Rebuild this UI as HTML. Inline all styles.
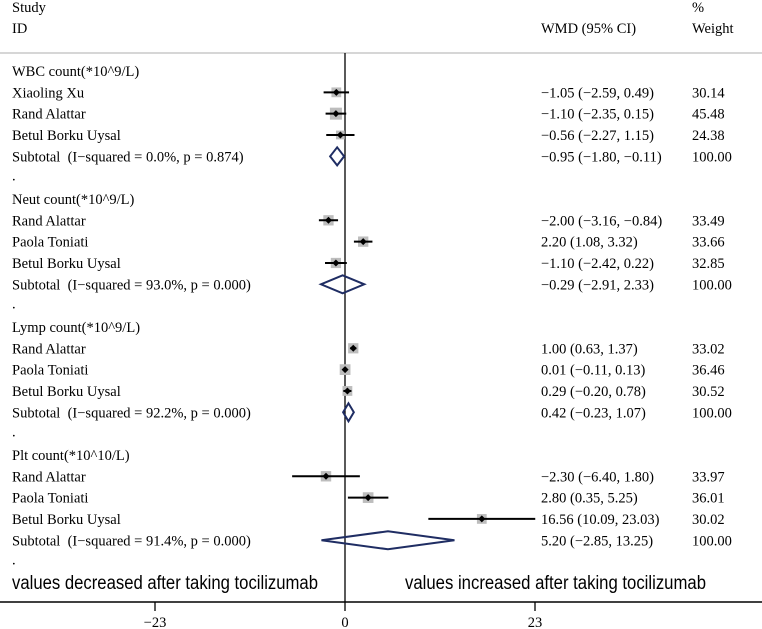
<!DOCTYPE html>
<html><head><meta charset="utf-8"><style>
html,body{margin:0;padding:0;background:#fff;}
svg{display:block;}
text{font-family:"Liberation Serif",serif;font-size:14.5px;fill:#000;white-space:pre;}
.sans{font-family:"Liberation Sans",sans-serif;font-size:19px;}
</style></head><body>
<svg id="chart" width="762" height="629" viewBox="0 0 762 629" xml:space="preserve">
<text x="12" y="12">Study</text>
<text x="12" y="33">ID</text>
<text x="541" y="33">WMD (95% CI)</text>
<text x="692" y="12">%</text>
<text x="692" y="33">Weight</text>
<line x1="0" y1="53" x2="762" y2="53" stroke="#c8c8c8" stroke-width="1.5"/>
<g id="marks"></g>
<line x1="0" y1="602" x2="762" y2="602" stroke="#000" stroke-width="1.5"/>
<g id="ticks"></g>
<text class="sans" x="12" y="589" textLength="306" lengthAdjust="spacingAndGlyphs">values decreased after taking tocilizumab</text>
<text class="sans" x="405" y="589" textLength="301" lengthAdjust="spacingAndGlyphs">values increased after taking tocilizumab</text>
</svg>
<script>
const groups = ["WBC count(*10^9/L)","Neut count(*10^9/L)","Lymp count(*10^9/L)","Plt count(*10^10/L)"];
const subtotalLabels = ["Subtotal  (I\u2212squared = 0.0%, p = 0.874)","Subtotal  (I\u2212squared = 93.0%, p = 0.000)","Subtotal  (I\u2212squared = 92.2%, p = 0.000)","Subtotal  (I\u2212squared = 91.4%, p = 0.000)"];
const studies = [["Xiaoling Xu","Rand Alattar","Betul Borku Uysal"],["Rand Alattar","Paola Toniati","Betul Borku Uysal"],["Rand Alattar","Paola Toniati","Betul Borku Uysal"],["Rand Alattar","Paola Toniati","Betul Borku Uysal"]];
const est = [[-1.05,-1.10,-0.56],[-2.00,2.20,-1.10],[1.00,0.01,0.29],[-2.30,2.80,16.56]];
const lo = [[-2.59,-2.35,-2.27],[-3.16,1.08,-2.42],[0.63,-0.11,-0.20],[-6.40,0.35,10.09]];
const hi = [[0.49,0.15,1.15],[-0.84,3.32,0.22],[1.37,0.13,0.78],[1.80,5.25,23.03]];
const weights = [[30.14,45.48,24.38],[33.49,33.66,32.85],[33.02,36.46,30.52],[33.97,36.01,30.02]];
const subEst = [-0.95,-0.29,0.42,5.20];
const subLo = [-1.80,-2.91,-0.23,-2.85];
const subHi = [-0.11,2.33,1.07,13.25];
const tickValues = [-23,0,23];

const NS="http://www.w3.org/2000/svg";
const x0=345, k=190/23;
const xs=v=>x0+v*k;
const rowY=i=>71+i*21.33;
const g=document.getElementById('marks');
function mk(tag,attrs,parent){const e=document.createElementNS(NS,tag);for(const a in attrs)e.setAttribute(a,attrs[a]);(parent||g).appendChild(e);return e;}
function txt(x,y,s){const t=mk('text',{x:x,y:y+5});t.textContent=s;return t;}
const f2=v=>(v<0?'\u2212':'')+Math.abs(v).toFixed(2);
const ci=(e,l,h)=>f2(e)+' ('+f2(l)+', '+f2(h)+')';

const zl=mk('line',{x1:x0,y1:53,x2:x0,y2:602,stroke:'#000','stroke-width':1.3});



let r=0;
groups.forEach((gname,gi)=>{
  const h=txt(12,rowY(r),gname);
  
  
  r++;
  studies[gi].forEach((s,si)=>{
    const y=rowY(r);
    const l=txt(12,y,s);
    
    
    const side=1.78*Math.sqrt(weights[gi][si]);
    const box=mk('rect',{x:xs(est[gi][si])-side/2,y:y-side/2,width:side,height:side,fill:'#bdbdbd'});
    
    
    const ln=mk('line',{x1:xs(lo[gi][si]),y1:y,x2:xs(hi[gi][si]),y2:y,stroke:'#000','stroke-width':2});
    
    
    const cx=xs(est[gi][si]);
    const pt=mk('polygon',{points:`${cx-3.5},${y} ${cx},${y-3.5} ${cx+3.5},${y} ${cx},${y+3.5}`,fill:'#000'});
    
    
    const c=txt(541,y,ci(est[gi][si],lo[gi][si],hi[gi][si]));
    
    
    const w=txt(692,y,weights[gi][si].toFixed(2));
    
    
    r++;
  });
  const y=rowY(r);
  const sl=txt(12,y,subtotalLabels[gi]);
  
  
  const a=xs(subLo[gi]),m=xs(subEst[gi]),b=xs(subHi[gi]);
  const d=mk('polygon',{points:`${a},${y} ${m},${y-9} ${b},${y} ${m},${y+9}`,fill:'none',stroke:'#1f2d63','stroke-width':2});
  
  
  const c=txt(541,y,ci(subEst[gi],subLo[gi],subHi[gi]));
  
  
  const w=txt(692,y,'100.00');
  
  
  r++;
  const dot=txt(12,rowY(r)-2,'.');
  
  
  r++;
});

const tg=document.getElementById('ticks');
tickValues.forEach(v=>{
  const t=mk('line',{x1:xs(v),y1:602,x2:xs(v),y2:611,stroke:'#000','stroke-width':1.3},tg);
  
  
  const l=mk('text',{x:xs(v),y:627,'text-anchor':'middle'},tg);
  l.textContent=(v<0?'\u2212':'')+Math.abs(v);
  
  
});
</script>
</body></html>
